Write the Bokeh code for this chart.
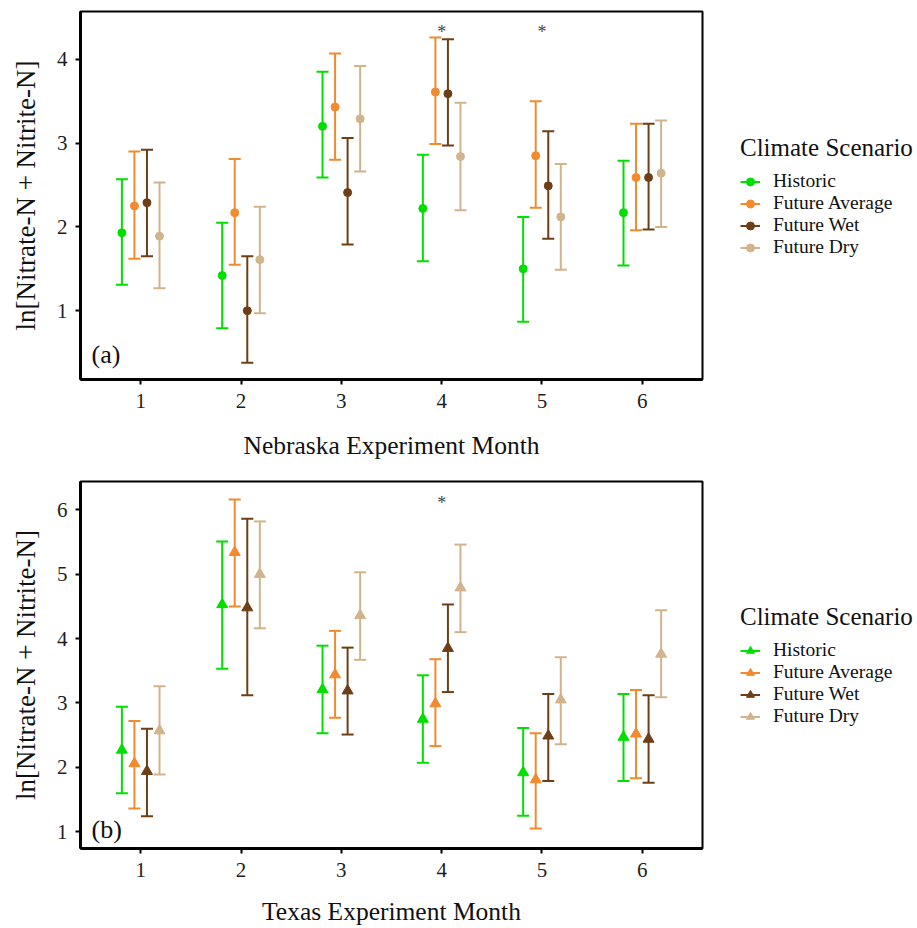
from bokeh.plotting import figure
from bokeh.models import ColumnDataSource, Legend, LegendItem, Label, FixedTicker, Range1d
from bokeh.transform import dodge
from bokeh.layouts import column, row
from bokeh.embed import file_html
from bokeh.resources import INLINE
from bokeh.core.properties import value

months = [1, 2, 3, 4, 5, 6]
scenarios = ["Historic", "Future Average", "Future Wet", "Future Dry"]
colors = ["#00E000", "#F28A2E", "#6E3F16", "#D2B48C"]
offsets = [-0.1875, -0.0625, 0.0625, 0.1875]

# Nebraska (a)
ne_mean = {
    "Historic":       [1.93, 1.42, 3.20, 2.22, 1.50, 2.17],
    "Future Average": [2.25, 2.17, 3.43, 3.61, 2.85, 2.59],
    "Future Wet":     [2.29, 1.00, 2.41, 3.59, 2.49, 2.59],
    "Future Dry":     [1.89, 1.61, 3.29, 2.84, 2.12, 2.64],
}
ne_lo = {
    "Historic":       [1.31, 0.79, 2.59, 1.59, 0.87, 1.54],
    "Future Average": [1.62, 1.55, 2.80, 2.99, 2.23, 1.96],
    "Future Wet":     [1.65, 0.38, 1.79, 2.97, 1.86, 1.97],
    "Future Dry":     [1.27, 0.97, 2.66, 2.20, 1.49, 2.00],
}
ne_hi = {
    "Historic":       [2.57, 2.05, 3.85, 2.86, 2.12, 2.79],
    "Future Average": [2.90, 2.81, 4.07, 4.26, 3.50, 3.23],
    "Future Wet":     [2.92, 1.65, 3.06, 4.24, 3.14, 3.23],
    "Future Dry":     [2.53, 2.24, 3.92, 3.48, 2.75, 3.27],
}
ne_star_months = [4, 5]
ne_star_y = [4.38, 4.38]

# Texas (b)
tx_mean = {
    "Historic":       [2.27, 4.53, 3.21, 2.75, 1.92, 2.47],
    "Future Average": [2.06, 5.34, 3.44, 2.99, 1.81, 2.52],
    "Future Wet":     [1.94, 4.48, 3.19, 3.85, 2.49, 2.44],
    "Future Dry":     [2.57, 5.00, 4.36, 4.79, 3.05, 3.76],
}
tx_lo = {
    "Historic":       [1.60, 3.53, 2.53, 2.07, 1.25, 1.79],
    "Future Average": [1.36, 4.50, 2.77, 2.33, 1.05, 1.83],
    "Future Wet":     [1.24, 3.12, 2.51, 3.17, 1.79, 1.76],
    "Future Dry":     [1.89, 4.16, 3.67, 4.10, 2.36, 3.09],
}
tx_hi = {
    "Historic":       [2.94, 5.51, 3.89, 3.43, 2.61, 3.14],
    "Future Average": [2.72, 6.16, 4.12, 3.68, 2.53, 3.20],
    "Future Wet":     [2.60, 5.86, 3.86, 4.53, 3.14, 3.12],
    "Future Dry":     [3.26, 5.82, 5.03, 5.46, 3.71, 4.44],
}
tx_star_months = [4]
tx_star_y = [6.18]

FONT = "Liberation Serif"


def make_sources(mean, lo, hi):
    return [ColumnDataSource(dict(month=months, mean=mean[s], lo=lo[s], hi=hi[s])) for s in scenarios]


def make_panel(sources, stars_x, stars_y, yr, yticks, xlabel, tag, tag_y,
               marker, msize, height, top, bottom, xl_standoff):
    p = figure(width=710, height=height, output_backend="svg", toolbar_location=None,
               x_range=Range1d(0.4, 6.6), y_range=Range1d(*yr),
               min_border_left=80, min_border_right=8,
               min_border_top=top, min_border_bottom=bottom)
    p.xgrid.visible = False
    p.ygrid.visible = False
    p.outline_line_color = "black"
    p.outline_line_width = 2
    p.outline_line_alpha = 1
    for ax in (p.xaxis[0], p.yaxis[0]):
        ax.axis_line_width = 3
        ax.axis_line_color = "black"
        ax.major_tick_out = 5
        ax.major_tick_in = 0
        ax.major_tick_line_width = 2
        ax.minor_tick_line_color = None
        ax.major_label_text_font = FONT
        ax.major_label_text_font_size = "21px"
        ax.major_label_text_color = "#1e1e1e"
        ax.axis_label_text_font = FONT
        ax.axis_label_text_font_style = "normal"
        ax.axis_label_text_color = "#111111"
    p.xaxis.axis_label_text_font_size = "25.5px"
    p.yaxis.axis_label_text_font_size = "27px"
    p.xaxis.ticker = FixedTicker(ticks=months)
    p.yaxis.ticker = FixedTicker(ticks=yticks)
    p.xaxis.major_label_standoff = 9
    p.yaxis.major_label_standoff = 8
    p.xaxis.axis_label = xlabel
    p.yaxis.axis_label = "ln[Nitrate-N + Nitrite-N]"
    p.xaxis.axis_label_standoff = xl_standoff
    p.yaxis.axis_label_standoff = 13

    for src, c, off in zip(sources, colors, offsets):
        p.segment(x0=dodge("month", off, range=p.x_range), x1=dodge("month", off, range=p.x_range),
                  y0="lo", y1="hi", source=src, line_color=c, line_width=2)
        p.segment(x0=dodge("month", off - 0.06, range=p.x_range), x1=dodge("month", off + 0.06, range=p.x_range),
                  y0="lo", y1="lo", source=src, line_color=c, line_width=2)
        p.segment(x0=dodge("month", off - 0.06, range=p.x_range), x1=dodge("month", off + 0.06, range=p.x_range),
                  y0="hi", y1="hi", source=src, line_color=c, line_width=2)
        p.scatter(x=dodge("month", off, range=p.x_range), y="mean", source=src, marker=marker,
                  size=msize, fill_color=c, line_color=c)

    p.text(x=stars_x, y=stars_y, text=["*"] * len(stars_x), text_font=value(FONT),
           text_font_size="18px", text_color="#444444", text_align="center", text_baseline="middle",
           y_offset=5)

    p.add_layout(Label(x=0.51, y=tag_y, text=tag, text_font=FONT, text_font_size="26px",
                       text_color="#111111", text_baseline="middle"))
    return p


def make_legend(sources, marker, msize, height, loc):
    # legend-only panel: shares the data sources, its ranges keep the marks off-view
    q = figure(width=207, height=height, output_backend="svg", toolbar_location=None,
               x_range=Range1d(100, 101), y_range=Range1d(100, 101),
               x_axis_type=None, y_axis_type=None,
               min_border=0, min_border_left=0, min_border_right=0,
               min_border_top=0, min_border_bottom=0)
    q.xgrid.visible = False
    q.ygrid.visible = False
    q.outline_line_color = None
    items = []
    for s, src, c in zip(scenarios, sources, colors):
        seg = q.segment(x0="month", x1="month", y0="lo", y1="hi", source=src, line_color=c, line_width=2)
        sc = q.scatter(x="month", y="mean", source=src, marker=marker, size=msize, fill_color=c, line_color=c)
        items.append(LegendItem(label=s, renderers=[seg, sc]))
    leg = Legend(items=items, location=loc, title="Climate Scenario",
                 title_text_font=FONT, title_text_font_size="25px", title_text_font_style="normal",
                 title_text_color="#111111", title_standoff=8,
                 label_text_font=FONT, label_text_font_size="19.5px", label_text_color="#111111",
                 glyph_width=20, glyph_height=21, label_height=21, spacing=0,
                 label_standoff=13, padding=0, margin=0,
                 border_line_color=None, background_fill_alpha=0)
    q.add_layout(leg, "center")
    return q


src_a = make_sources(ne_mean, ne_lo, ne_hi)
src_b = make_sources(tx_mean, tx_lo, tx_hi)

pa = make_panel(src_a, ne_star_months, ne_star_y, (0.18, 4.57), [1, 2, 3, 4],
                "Nebraska Experiment Month", "(a)", 0.48, "circle", 8,
                462, 11, 82, 20)
pb = make_panel(src_b, tx_star_months, tx_star_y, (0.74, 6.44), [1, 2, 3, 4, 5, 6],
                "Texas Experiment Month", "(b)", 1.04, "triangle", 11,
                466, 19, 78, 17)
la = make_legend(src_a, "circle", 8, 462, (30, 121))
lb = make_legend(src_b, "triangle", 11, 466, (30, 121))

layout = column(row(pa, la, spacing=0), row(pb, lb, spacing=0), spacing=0)
open("out.html", "w").write(file_html(layout, INLINE))
